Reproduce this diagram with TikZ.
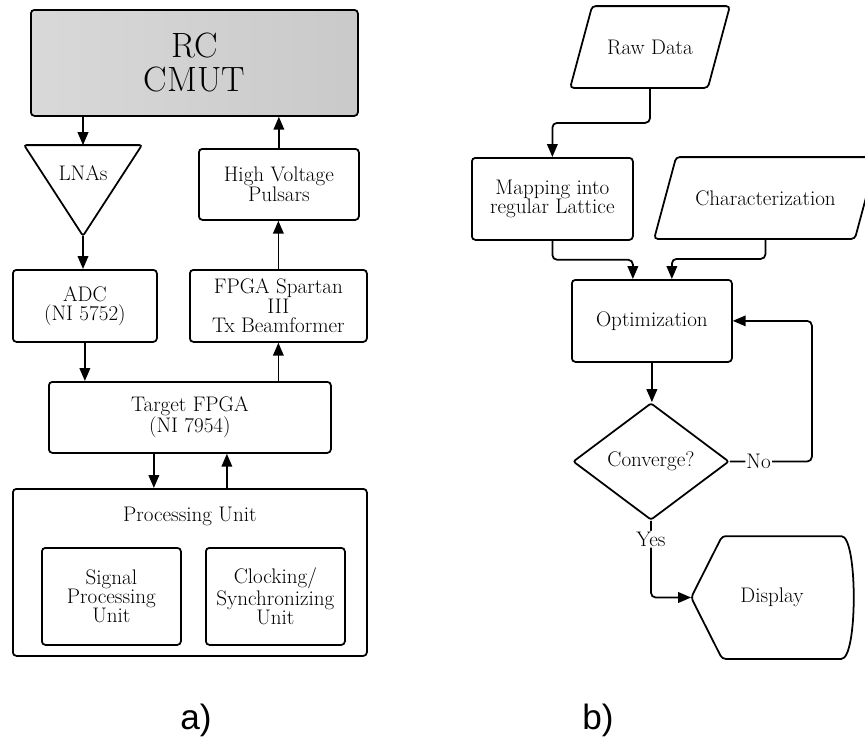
\documentclass[tikz,border=0pt]{standalone}
\usepackage{fontspec}
\newfontfamily\capfont{Liberation Sans}
\usetikzlibrary{shapes.geometric,arrows.meta,positioning}

\def\boxfont{\fontsize{18}{16.5}\selectfont}

\begin{document}
\begin{tikzpicture}[x=0.03cm, y=-0.03cm, line width=1.5pt,
    box/.style={draw, rounded corners=3pt, align=center, inner sep=0pt, anchor=north west, font=\boxfont},
    body/.style={inner sep=0pt, align=center, font=\boxfont},
    arr/.style={-{Triangle[length=11pt,width=9pt]}, rounded corners=4pt},
    lbl/.style={fill=white, inner sep=1pt, font=\boxfont}]

  \def\u{0.03cm};
  \def\s{0.33cm};
  \useasboundingbox (0,0) rectangle (865,754);

  %a) hardware
  \node[box, left color=gray!30, right color=gray!42, minimum width=327*\u, minimum height=106*\u,
        font=\fontsize{30}{29}\selectfont] (cmut) at (30,9) {RC\\CMUT};

    \foreach \x/\y/\w/\h/\name/\words in { 198/148/160/71/hv/{High Voltage\\Pulsars},
                                           12/269/144/72/adc/{ADC\\(NI 5752)},
                                           189/269/177/72/spartan/{FPGA Spartan\\III\\Tx Beamformer},
                                           48/381/282/71/target/{Target FPGA\\(NI 7954)},
                                           12/488/354/167/proc/{},
                                           41/547/139/97/sig/{Signal\\Processing\\Unit},
                                           205/547/139/97/clk/{Clocking/\\Synchronizing\\Unit}}{
         \node[box, minimum width=\w*\u, minimum height=\h*\u] (\name) at (\x,\y) {\words};
    }

  \node[font=\boxfont] (proclbl) at ([yshift=-0.84cm]proc.north) {Processing Unit};

  % LNAs triangle
  \node[body, minimum width=116*\u, minimum height=89*\u] (lna) at (83,190.5) {};
  \draw[rounded corners=2pt] (lna.north west) -- (lna.north east) -- (lna.south) -- cycle;
  \node[font=\boxfont] (lnatxt) at (83,173) {LNAs};

  \draw[arr] (cmut.south -| lna.north) -- (lna.north);
  \draw[arr] (lna.south) -- (lna.south |- adc.north);
  \draw[arr] (hv.north) -- (hv.north |- cmut.south);
  \draw[arr] (spartan.north) -- (spartan.north |- hv.south);
  \draw[arr] (adc.south) -- (adc.south |- target.north);
  \draw[arr] (target.north -| spartan.south) -- (spartan.south);
  \draw[arr] ([xshift=-1.08cm]target.south) -- ([xshift=-1.08cm]target.south |- proc.north);
  \draw[arr] ([xshift=1.11cm]target.south |- proc.north) -- ([xshift=1.11cm]target.south);

  %b) flow chart
  \node[body, minimum width=136*\u, minimum height=80*\u] (raw) at (650,47) {Raw Data};
  \node[box, minimum width=161*\u, minimum height=82*\u] (map) at (471,157) {Mapping into\\regular Lattice};
  \node[body, minimum width=199*\u, minimum height=80*\u] (char) at (765.5,198) {Characterization};
  \node[box, minimum width=160*\u, minimum height=82*\u] (opt) at (571,279) {Optimization};
  \node[draw, diamond, aspect=1.33, inner sep=0pt, rounded corners=2pt, minimum width=156*\u,
        minimum height=117*\u, font=\boxfont] (conv) at (651,461.5) {Converge?};
  \node[body, minimum width=160*\u, minimum height=121*\u] (disp) at (772,597.5) {Display};

    \foreach \name in {raw, char}{
         \draw[rounded corners=3pt] ([xshift=-\s]\name.south west) -- ([xshift=\s]\name.north west)
               -- ([xshift=\s]\name.north east) -- ([xshift=-\s]\name.south east) -- cycle;
    }
  \draw[rounded corners=3pt] (disp.west) -- ([xshift=0.93cm]disp.north west) -- ([xshift=-0.45cm]disp.north east)
        .. controls ([xshift=0.15cm]disp.north east) and ([xshift=0.15cm]disp.south east) .. ([xshift=-0.45cm]disp.south east)
        -- ([xshift=0.93cm]disp.south west) -- cycle;

  \draw[arr] (raw.south) -- ++(0,35) -| (map.north);
  \draw[arr] (map.south) -- ++(0,19) -| ([xshift=-0.57cm]opt.north);
  \draw[arr] (char.south) -- ++(0,20) -| ([xshift=0.6cm]opt.north);
  \draw[arr] (opt.south) -- (opt.south |- conv.north);
  \draw[arr] (conv.east) -- node[lbl, pos=0.35] {No} ++(82,0) |- (opt.east);
  \draw[arr] (conv.south) |- node[lbl, pos=0.12] {Yes} (disp.west);

  % captions
  \node[font=\capfont\fontsize{30}{30}\selectfont] (capa) at (196,720) {a)};
  \node[font=\capfont\fontsize{30}{30}\selectfont] (capb) at (598,720) {b)};

\end{tikzpicture}
\end{document}
